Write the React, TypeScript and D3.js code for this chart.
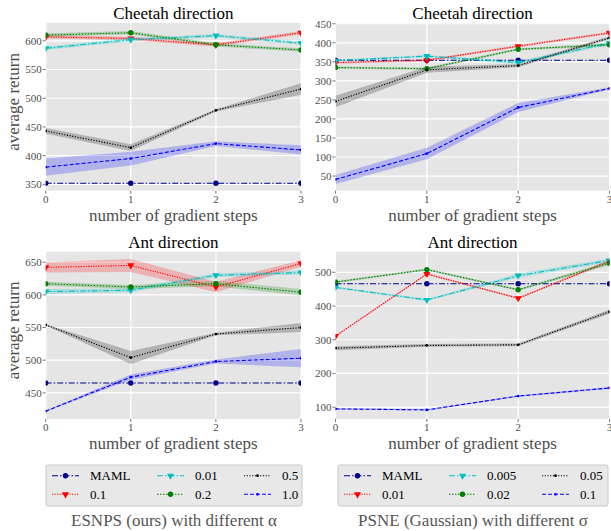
import * as d3 from "d3";

const steps = [0, 1, 2, 3];
const esnpsLabels = ["MAML", "0.1", "0.01", "0.2", "0.5", "1.0"];
const psneLabels = ["MAML", "0.01", "0.005", "0.02", "0.05", "0.1"];

// series order: MAML, red, cyan, green, black, blue
const cheetahEsMean = [
  [352, 352, 352, 352],
  [607, 604, 593, 614],
  [587, 602, 609, 596],
  [610, 614, 593, 584],
  [443, 414, 479, 516],
  [380, 395, 421, 410],
];
const cheetahEsSpread = [
  [0, 0, 0, 0],
  [3, 3, 3, 3],
  [3, 3, 3, 3],
  [3, 3, 3, 3],
  [5, 6, 2, 10],
  [15, 12, 4, 8],
];
const cheetahPsMean = [
  [354, 354, 354, 354],
  [348, 354, 391, 426],
  [353, 365, 348, 399],
  [335, 332, 383, 395],
  [246, 329, 340, 413],
  [41, 109, 230, 280],
];
const cheetahPsSpread = [
  [0, 0, 0, 0],
  [3, 3, 3, 3],
  [3, 3, 4, 5],
  [3, 3, 3, 4],
  [15, 8, 4, 4],
  [12, 15, 12, 3],
];
const antEsMean = [
  [465, 465, 465, 465],
  [642, 645, 612, 648],
  [605, 607, 630, 634],
  [617, 612, 617, 604],
  [554, 504, 540, 550],
  [422, 474, 498, 503],
];
const antEsSpread = [
  [0, 0, 0, 0],
  [8, 10, 8, 5],
  [4, 3, 3, 3],
  [3, 3, 4, 5],
  [1, 10, 2, 7],
  [1, 4, 3, 14],
];
const antPsMean = [
  [466, 466, 466, 466],
  [311, 495, 423, 533],
  [455, 418, 490, 535],
  [471, 508, 448, 527],
  [275, 283, 285, 383],
  [95, 92, 133, 157],
];
const antPsSpread = [
  [0, 0, 0, 0],
  [2, 3, 3, 4],
  [3, 3, 6, 6],
  [3, 3, 3, 6],
  [6, 4, 4, 6],
  [2, 2, 2, 3],
];

const colors = ["#00008b", "#ff0000", "#00bfbf", "#008000", "#000000", "#0000ff"];
const dashes = ["6,2,1.5,2", "1.2,1.3", "6,2,1.5,2", "1.5,1.5", "1.2,1.5", "4,2"];
const markers = ["circle", "tri", "tri", "circle", "dot", "dot"];

const serif = "Liberation Serif, Times New Roman, Times, serif";

function Marker({ kind, x, y, color }: { kind: string; x: number; y: number; color: string }) {
  if (kind === "tri") {
    const p = d3.symbol().type(d3.symbolTriangle).size(22)()!;
    return <path d={p} transform={`translate(${x},${y}) rotate(180)`} fill={color} />;
  }
  const r = kind === "circle" ? 2.7 : 1.4;
  return <circle cx={x} cy={y} r={r} fill={color} />;
}

type PanelProps = {
  id: string;
  title: string;
  x0: number; x1: number; y0: number; y1: number;
  domain: [number, number];
  ticks: number[];
  mean: number[][];
  spread: number[][];
  ylabel?: boolean;
};

function Panel(p: PanelProps) {
  const x = d3.scaleLinear().domain([0, 3]).range([p.x0, p.x1]);
  const y = d3.scaleLinear().domain(p.domain).range([p.y1, p.y0]);
  const line = d3.line<number>().x((_, i) => x(steps[i])).y((d) => y(d));
  const area = (m: number[], s: number[]) =>
    d3.area<number>()
      .x((_, i) => x(steps[i]))
      .y0((d, i) => y(d - s[i]))
      .y1((d, i) => y(d + s[i]))(m)!;
  const cx = (p.x0 + p.x1) / 2;
  return (
    <g>
      <defs>
        <clipPath id={p.id}>
          <rect x={p.x0} y={p.y0} width={p.x1 - p.x0} height={p.y1 - p.y0} />
        </clipPath>
      </defs>
      <rect x={p.x0} y={p.y0} width={p.x1 - p.x0} height={p.y1 - p.y0} fill="#e5e5e5" />
      {p.ticks.map((t) => (
        <line key={"gy" + t} x1={p.x0} x2={p.x1} y1={y(t)} y2={y(t)} stroke="#fff" strokeWidth={1.2} />
      ))}
      {steps.map((s) => (
        <line key={"gx" + s} x1={x(s)} x2={x(s)} y1={p.y0} y2={p.y1} stroke="#fff" strokeWidth={1.2} />
      ))}
      <g clipPath={`url(#${p.id})`}>
        {p.mean.map((m, k) =>
          p.spread[k].some((v) => v > 0) ? (
            <path key={"a" + k} d={area(m, p.spread[k])} fill={colors[k]} fillOpacity={0.22} />
          ) : null
        )}
        {p.mean.map((m, k) => (
          <path key={"l" + k} d={line(m)!} fill="none" stroke={colors[k]} strokeWidth={1.1} strokeDasharray={dashes[k]} />
        ))}
        {p.mean.map((m, k) =>
          m.map((v, i) => <Marker key={`m${k}-${i}`} kind={markers[k]} x={x(steps[i])} y={y(v)} color={colors[k]} />)
        )}
      </g>
      {p.ticks.map((t) => (
        <g key={"ty" + t}>
          <line x1={p.x0 - 3} x2={p.x0} y1={y(t)} y2={y(t)} stroke="#555" strokeWidth={0.8} />
          <text x={p.x0 - 4} y={y(t)} dy="0.35em" textAnchor="end" fontSize={11} fill="#4d4d4d">{t}</text>
        </g>
      ))}
      {steps.map((s) => (
        <g key={"tx" + s}>
          <line x1={x(s)} x2={x(s)} y1={p.y1} y2={p.y1 + 3} stroke="#555" strokeWidth={0.8} />
          <text x={x(s)} y={p.y1 + 12} textAnchor="middle" fontSize={11} fill="#4d4d4d">{s}</text>
        </g>
      ))}
      <text x={cx} y={p.y0 - 4} textAnchor="middle" fontSize={17} fill="#000">{p.title}</text>
      <text x={cx} y={p.y1 + 30} textAnchor="middle" fontSize={17} fill="#4d4d4d">number of gradient steps</text>
      {p.ylabel && (
        <text transform={`translate(19,${(p.y0 + p.y1) / 2 - 5}) rotate(-90)`} textAnchor="middle" fontSize={17} fill="#4d4d4d">
          average return
        </text>
      )}
    </g>
  );
}

function Legend({ x0, x1, labels, cols, caption }: { x0: number; x1: number; labels: string[]; cols: number[]; caption: string }) {
  const rows = [475.7, 494.3];
  return (
    <g>
      <rect x={x0} y={465} width={x1 - x0} height={41} rx={2} fill="#e8e8e8" stroke="#c8c8c8" strokeWidth={1} />
      {labels.map((lab, k) => {
        const c = Math.floor(k / 2);
        const r = k % 2;
        const lx = x0 + cols[c];
        const ly = rows[r];
        return (
          <g key={lab}>
            <line x1={lx} x2={lx + 27} y1={ly} y2={ly} stroke={colors[k]} strokeWidth={1.1} strokeDasharray={dashes[k]} />
            <Marker kind={markers[k]} x={lx + 13.5} y={ly} color={colors[k]} />
            <text x={lx + 38} y={ly} dy="0.35em" fontSize={13} fill="#000">{lab}</text>
          </g>
        );
      })}
      <text x={(x0 + x1) / 2} y={526} textAnchor="middle" fontSize={17} fill="#555">{caption}</text>
    </g>
  );
}

export default function App() {
  return (
    <svg width={611} height={531} style={{ position: "absolute", left: 0, top: 0, background: "#fff", fontFamily: serif }}>
      <Panel id="c1" title="Cheetah direction" x0={45.7} x1={301} y0={23} y1={190.7} domain={[339, 631]}
        ticks={[350, 400, 450, 500, 550, 600]} mean={cheetahEsMean} spread={cheetahEsSpread} ylabel />
      <Panel id="c2" title="Cheetah direction" x0={335.5} x1={609.5} y0={23} y1={190.7} domain={[11.5, 452]}
        ticks={[50, 100, 150, 200, 250, 300, 350, 400, 450]} mean={cheetahPsMean} spread={cheetahPsSpread} />
      <Panel id="c3" title="Ant direction" x0={45.7} x1={301} y0={251.7} y1={419} domain={[410, 666]}
        ticks={[450, 500, 550, 600, 650]} mean={antEsMean} spread={antEsSpread} ylabel />
      <Panel id="c4" title="Ant direction" x0={335.5} x1={609.5} y0={251.7} y1={419} domain={[65, 561]}
        ticks={[100, 200, 300, 400, 500]} mean={antPsMean} spread={antPsSpread} />
      <Legend x0={46} x1={302} labels={esnpsLabels} cols={[6, 111, 198]} caption="ESNPS (ours) with different α" />
      <Legend x0={338} x1={608} labels={psneLabels} cols={[6, 111, 204]} caption="PSNE (Gaussian) with different σ" />
    </svg>
  );
}
